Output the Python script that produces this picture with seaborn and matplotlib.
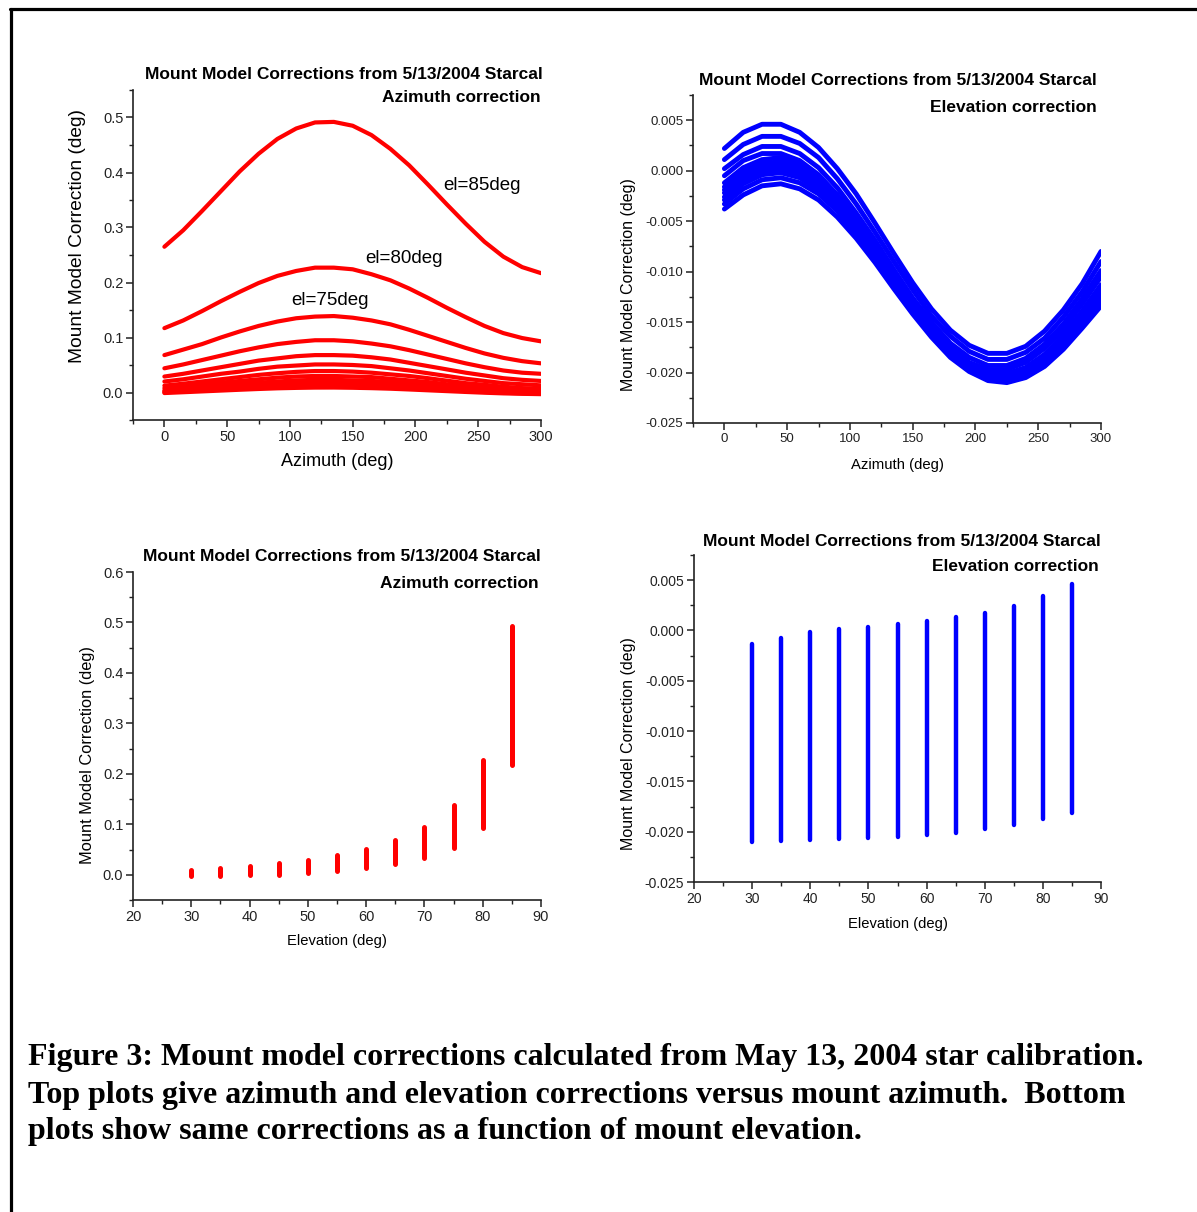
import pandas as pd
import seaborn as sns
import matplotlib.pyplot as plt
from matplotlib.ticker import MultipleLocator, AutoMinorLocator, FormatStrFormatter, FuncFormatter
from matplotlib.lines import Line2D

azimuth_deg = [0, 15, 30, 45, 60, 75, 90, 105, 120, 135, 150, 165, 180, 195, 210, 225, 240, 255, 270, 285, 300]
elevation_deg = [30, 35, 40, 45, 50, 55, 60, 65, 70, 75, 80, 85]

# azimuth correction (deg) for each elevation, read along azimuth
az_corr_30 = [-0.001, 0.0005, 0.002, 0.0035, 0.005, 0.0064, 0.0076, 0.0084, 0.0089, 0.009, 0.0086, 0.0079, 0.0069, 0.0055, 0.004, 0.0025, 0.001, -0.0004, -0.0016, -0.0024, -0.003]
az_corr_35 = [0.0005, 0.002, 0.004, 0.006, 0.008, 0.010, 0.011, 0.012, 0.013, 0.013, 0.0125, 0.0116, 0.010, 0.0086, 0.0067, 0.0047, 0.0028, 0.001, -0.0004, -0.0015, -0.002]
az_corr_40 = [0.002, 0.004, 0.007, 0.009, 0.012, 0.014, 0.016, 0.017, 0.018, 0.018, 0.017, 0.016, 0.015, 0.0125, 0.010, 0.008, 0.005, 0.003, 0.001, 0.000, -0.001]
az_corr_45 = [0.004, 0.0065, 0.0094, 0.0124, 0.0154, 0.018, 0.020, 0.022, 0.023, 0.023, 0.022, 0.021, 0.019, 0.016, 0.013, 0.010, 0.007, 0.005, 0.0025, 0.001, 0.000]
az_corr_50 = [0.008, 0.011, 0.014, 0.018, 0.021, 0.024, 0.027, 0.029, 0.030, 0.030, 0.029, 0.028, 0.025, 0.022, 0.019, 0.015, 0.012, 0.009, 0.006, 0.004, 0.003]
az_corr_55 = [0.0125, 0.016, 0.020, 0.024, 0.028, 0.032, 0.035, 0.0375, 0.039, 0.039, 0.038, 0.036, 0.033, 0.030, 0.026, 0.0215, 0.017, 0.014, 0.0105, 0.008, 0.007]
az_corr_60 = [0.020, 0.024, 0.029, 0.034, 0.038, 0.043, 0.047, 0.049, 0.051, 0.051, 0.050, 0.048, 0.044, 0.040, 0.035, 0.030, 0.025, 0.021, 0.017, 0.015, 0.013]
az_corr_65 = [0.029, 0.034, 0.040, 0.046, 0.052, 0.058, 0.062, 0.066, 0.068, 0.068, 0.067, 0.064, 0.060, 0.054, 0.048, 0.042, 0.036, 0.031, 0.026, 0.023, 0.021]
az_corr_70 = [0.044, 0.051, 0.059, 0.067, 0.075, 0.082, 0.088, 0.092, 0.095, 0.095, 0.093, 0.089, 0.084, 0.077, 0.069, 0.061, 0.053, 0.046, 0.040, 0.036, 0.034]
az_corr_75 = [0.068, 0.078, 0.088, 0.100, 0.111, 0.121, 0.129, 0.135, 0.138, 0.139, 0.136, 0.131, 0.124, 0.114, 0.103, 0.092, 0.081, 0.071, 0.063, 0.057, 0.053]
az_corr_80 = [0.117, 0.131, 0.148, 0.166, 0.183, 0.199, 0.212, 0.221, 0.227, 0.227, 0.224, 0.215, 0.204, 0.189, 0.172, 0.154, 0.137, 0.121, 0.108, 0.099, 0.093]
az_corr_85 = [0.265, 0.295, 0.330, 0.366, 0.402, 0.434, 0.461, 0.480, 0.491, 0.492, 0.485, 0.468, 0.443, 0.413, 0.378, 0.342, 0.307, 0.274, 0.247, 0.228, 0.217]

# elevation correction (deg) for each elevation, read along azimuth
el_corr_30 = [-0.0038, -0.0024, -0.0015, -0.0013, -0.0018, -0.0029, -0.0046, -0.0067, -0.0091, -0.0117, -0.0142, -0.0165, -0.0185, -0.0199, -0.0208, -0.0210, -0.0205, -0.0194, -0.0177, -0.0156, -0.0134]
el_corr_35 = [-0.0033, -0.0018, -0.0009, -0.0007, -0.0012, -0.0023, -0.0040, -0.0062, -0.0087, -0.0113, -0.0139, -0.0163, -0.0183, -0.0198, -0.0207, -0.0209, -0.0204, -0.0193, -0.0176, -0.0154, -0.0130]
el_corr_40 = [-0.0029, -0.0013, -0.0004, -0.0002, -0.0007, -0.0019, -0.0036, -0.0058, -0.0084, -0.0110, -0.0137, -0.0161, -0.0182, -0.0197, -0.0206, -0.0208, -0.0203, -0.0191, -0.0174, -0.0152, -0.0126]
el_corr_45 = [-0.0026, -0.0010, -0.0001, 0.0001, -0.0004, -0.0016, -0.0033, -0.0056, -0.0081, -0.0108, -0.0135, -0.0160, -0.0180, -0.0196, -0.0205, -0.0207, -0.0202, -0.0190, -0.0173, -0.0150, -0.0125]
el_corr_50 = [-0.0022, -0.0007, 0.0001, 0.0003, -0.0003, -0.0016, -0.0034, -0.0057, -0.0083, -0.0111, -0.0137, -0.0162, -0.0182, -0.0196, -0.0204, -0.0206, -0.0200, -0.0187, -0.0169, -0.0146, -0.0120]
el_corr_55 = [-0.0019, -0.0004, 0.0004, 0.0006, 0.0000, -0.0013, -0.0032, -0.0055, -0.0081, -0.0109, -0.0136, -0.0160, -0.0180, -0.0195, -0.0203, -0.0205, -0.0199, -0.0186, -0.0167, -0.0144, -0.0118]
el_corr_60 = [-0.0016, -0.0001, 0.0007, 0.0009, 0.0003, -0.0010, -0.0029, -0.0052, -0.0079, -0.0106, -0.0133, -0.0158, -0.0178, -0.0193, -0.0201, -0.0203, -0.0197, -0.0184, -0.0165, -0.0142, -0.0115]
el_corr_65 = [-0.0012, 0.0003, 0.0011, 0.0013, 0.0007, -0.0006, -0.0025, -0.0049, -0.0075, -0.0103, -0.0131, -0.0155, -0.0176, -0.0191, -0.0199, -0.0201, -0.0195, -0.0182, -0.0163, -0.0139, -0.0113]
el_corr_70 = [-0.0005, 0.0010, 0.0017, 0.0017, 0.0010, -0.0004, -0.0024, -0.0048, -0.0075, -0.0103, -0.0131, -0.0155, -0.0175, -0.0190, -0.0197, -0.0197, -0.0190, -0.0176, -0.0157, -0.0132, -0.0105]
el_corr_75 = [0.0002, 0.0016, 0.0024, 0.0024, 0.0017, 0.0003, -0.0017, -0.0042, -0.0069, -0.0098, -0.0126, -0.0150, -0.0171, -0.0185, -0.0193, -0.0193, -0.0186, -0.0172, -0.0152, -0.0127, -0.0099]
el_corr_80 = [0.0011, 0.0026, 0.0034, 0.0034, 0.0027, 0.0013, -0.0008, -0.0033, -0.0061, -0.0090, -0.0118, -0.0144, -0.0164, -0.0179, -0.0187, -0.0187, -0.0180, -0.0166, -0.0145, -0.0120, -0.0090]
el_corr_85 = [0.0022, 0.0038, 0.0046, 0.0046, 0.0038, 0.0023, 0.0002, -0.0023, -0.0052, -0.0082, -0.0111, -0.0137, -0.0158, -0.0173, -0.0181, -0.0181, -0.0174, -0.0159, -0.0138, -0.0112, -0.0080]

title_top = 'Mount Model Corrections from 5/13/2004 Starcal'
caption_lines = [
    'Figure 3: Mount model corrections calculated from May 13, 2004 star calibration.',
    'Top plots give azimuth and elevation corrections versus mount azimuth.  Bottom',
    'plots show same corrections as a function of mount elevation.',
]

az_corr = [az_corr_30, az_corr_35, az_corr_40, az_corr_45, az_corr_50, az_corr_55,
           az_corr_60, az_corr_65, az_corr_70, az_corr_75, az_corr_80, az_corr_85]
el_corr = [el_corr_30, el_corr_35, el_corr_40, el_corr_45, el_corr_50, el_corr_55,
           el_corr_60, el_corr_65, el_corr_70, el_corr_75, el_corr_80, el_corr_85]

rows = []
for el, a_vals, e_vals in zip(elevation_deg, az_corr, el_corr):
    for az, a, e in zip(azimuth_deg, a_vals, e_vals):
        rows.append({'azimuth': az, 'elevation': el, 'az_corr': a, 'el_corr': e})
df = pd.DataFrame(rows)

sns.set_theme(style='ticks')
plt.rcParams['font.family'] = ['Liberation Sans', 'DejaVu Sans']
plt.rcParams['axes.unicode_minus'] = False
plt.rcParams['text.color'] = 'black'
plt.rcParams['axes.labelcolor'] = 'black'

W, H = 1197, 1212
fig = plt.figure(figsize=(W / 100, H / 100), dpi=100)
fig.patch.set_facecolor('white')


def add_axes(left, top, right, bottom):
    return fig.add_axes([left / W, 1 - bottom / H, (right - left) / W, (bottom - top) / H])


ax1 = add_axes(133, 90, 541, 420)
ax2 = add_axes(693, 95, 1101, 423)
ax3 = add_axes(133, 572, 541, 900)
ax4 = add_axes(694, 555, 1101, 882)

sns.lineplot(data=df, x='azimuth', y='az_corr', units='elevation', estimator=None,
             color='#ff0000', linewidth=3, ax=ax1)
sns.lineplot(data=df, x='azimuth', y='el_corr', units='elevation', estimator=None,
             color='#0000ff', linewidth=3.5, ax=ax2)
sns.lineplot(data=df, x='elevation', y='az_corr', units='elevation', estimator=None,
             color='#ff0000', linewidth=3.6, solid_capstyle='round', ax=ax3)
sns.lineplot(data=df, x='elevation', y='el_corr', units='elevation', estimator=None,
             color='#0000ff', linewidth=3.2, solid_capstyle='round', ax=ax4)

fmt3 = FuncFormatter(lambda v, p: f'{v:.3f}'.replace('-0.000', '0.000'))


def style(ax, tick_fs):
    for s in ['top', 'right']:
        ax.spines[s].set_visible(False)
    for s in ['left', 'bottom']:
        ax.spines[s].set_linewidth(1.2)
        ax.spines[s].set_color('#222222')
    ax.xaxis.set_minor_locator(AutoMinorLocator(2))
    ax.yaxis.set_minor_locator(AutoMinorLocator(2))
    ax.tick_params(which='major', direction='out', length=5, width=1.1,
                   labelsize=tick_fs, colors='#222222', pad=2)
    ax.tick_params(which='minor', direction='out', length=3, width=1.0, colors='#222222')


title_fs = 12.5

# top left: azimuth correction vs azimuth
ax1.set_xlim(-25, 300)
ax1.set_ylim(-0.05, 0.55)
ax1.xaxis.set_major_locator(MultipleLocator(50))
ax1.yaxis.set_major_locator(MultipleLocator(0.1))
ax1.yaxis.set_major_formatter(FormatStrFormatter('%.1f'))
style(ax1, 10.5)
ax1.set_xlabel('Azimuth (deg)', fontsize=13)
ax1.set_ylabel('Mount Model Correction (deg)', fontsize=13.8)
ax1.xaxis.set_label_coords(0.5, -0.1)
ax1.yaxis.set_label_coords(-0.115, 0.558)
ax1.text(253, 0.377, 'el=85deg', fontsize=13.5, ha='center', va='center')
ax1.text(191, 0.244, 'el=80deg', fontsize=13.5, ha='center', va='center')
ax1.text(132, 0.167, 'el=75deg', fontsize=13.5, ha='center', va='center')
ax1.text(1.005, 1.048, title_top, transform=ax1.transAxes, fontsize=title_fs,
         fontweight='bold', ha='right', va='center')
ax1.text(0.998, 0.976, 'Azimuth correction', transform=ax1.transAxes, fontsize=title_fs,
         fontweight='bold', ha='right', va='center')

# top right: elevation correction vs azimuth
ax2.set_xlim(-25, 300)
ax2.set_ylim(-0.025, 0.0075)
ax2.xaxis.set_major_locator(MultipleLocator(50))
ax2.yaxis.set_major_locator(MultipleLocator(0.005))
ax2.yaxis.set_major_formatter(fmt3)
style(ax2, 9.5)
ax2.set_xlabel('Azimuth (deg)', fontsize=10.7)
ax2.set_ylabel('Mount Model Correction (deg)', fontsize=11.5)
ax2.xaxis.set_label_coords(0.5, -0.107)
ax2.yaxis.set_label_coords(-0.14, 0.421)
ax2.text(0.990, 1.043, title_top, transform=ax2.transAxes, fontsize=title_fs,
         fontweight='bold', ha='right', va='center')
ax2.text(0.990, 0.963, 'Elevation correction', transform=ax2.transAxes, fontsize=title_fs,
         fontweight='bold', ha='right', va='center')

# bottom left: azimuth correction vs elevation
ax3.set_xlim(20, 90)
ax3.set_ylim(-0.05, 0.6)
ax3.xaxis.set_major_locator(MultipleLocator(10))
ax3.yaxis.set_major_locator(MultipleLocator(0.1))
ax3.yaxis.set_major_formatter(FormatStrFormatter('%.1f'))
style(ax3, 10.5)
ax3.set_xlabel('Elevation (deg)', fontsize=10.6)
ax3.set_ylabel('Mount Model Correction (deg)', fontsize=11.8)
ax3.xaxis.set_label_coords(0.5, -0.104)
ax3.yaxis.set_label_coords(-0.093, 0.442)
ax3.text(1.0, 1.046, title_top, transform=ax3.transAxes, fontsize=title_fs,
         fontweight='bold', ha='right', va='center')
ax3.text(0.993, 0.966, 'Azimuth correction', transform=ax3.transAxes, fontsize=title_fs,
         fontweight='bold', ha='right', va='center')

# bottom right: elevation correction vs elevation
ax4.set_xlim(20, 90)
ax4.set_ylim(-0.025, 0.0075)
ax4.xaxis.set_major_locator(MultipleLocator(10))
ax4.yaxis.set_major_locator(MultipleLocator(0.005))
ax4.yaxis.set_major_formatter(fmt3)
style(ax4, 10)
ax4.set_xlabel('Elevation (deg)', fontsize=10.6)
ax4.set_ylabel('Mount Model Correction (deg)', fontsize=11.5)
ax4.xaxis.set_label_coords(0.5, -0.107)
ax4.yaxis.set_label_coords(-0.142, 0.422)
ax4.text(1.0, 1.040, title_top, transform=ax4.transAxes, fontsize=title_fs,
         fontweight='bold', ha='right', va='center')
ax4.text(0.995, 0.966, 'Elevation correction', transform=ax4.transAxes, fontsize=title_fs,
         fontweight='bold', ha='right', va='center')

# caption
for line, ypx in zip(caption_lines, [1057, 1095, 1132]):
    fig.text(28 / W, 1 - ypx / H, line, fontsize=23, fontweight='bold', color='black',
             family=['Liberation Serif', 'DejaVu Serif'], ha='left', va='center')

# page frame
fig.add_artist(Line2D([10 / W, 1], [1 - 8.5 / H, 1 - 8.5 / H], color='black', linewidth=2.3))
fig.add_artist(Line2D([10.5 / W, 10.5 / W], [0, 1 - 8.5 / H], color='black', linewidth=2.3))

fig.savefig('out.png', dpi=100, facecolor='white')
